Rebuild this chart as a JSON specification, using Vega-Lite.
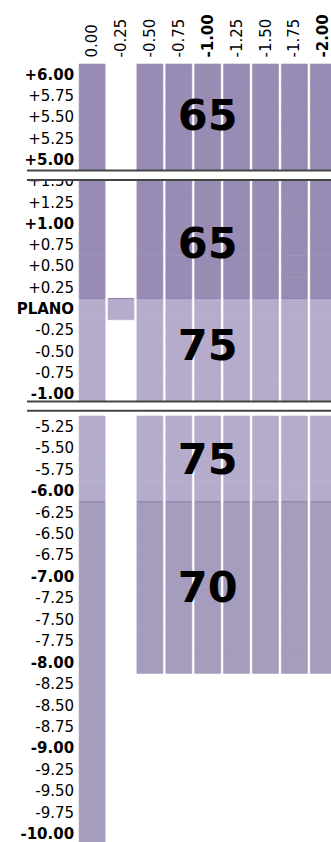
{
  "$schema": "https://vega.github.io/schema/vega-lite/v6.json",
  "padding": {"left": 16, "top": 13, "right": 0, "bottom": 0},
  "bounds": "flush",
  "config": {"view": {"stroke": null}, "font": "DejaVu Sans", "axisX": {"labelFontSize": 15, "labelFont": "DejaVu Sans", "labelColor": "#000"}},
  "spacing": 11,
  "resolve": {"scale": {"y": "independent"}},
  "datasets": {
    "upper": [
      {"sph":"+6.00","cyl":"0.00","price":"65"},{"sph":"+6.00","cyl":"-0.50","price":"65"},{"sph":"+6.00","cyl":"-0.75","price":"65"},{"sph":"+6.00","cyl":"-1.00","price":"65"},{"sph":"+6.00","cyl":"-1.25","price":"65"},{"sph":"+6.00","cyl":"-1.50","price":"65"},{"sph":"+6.00","cyl":"-1.75","price":"65"},{"sph":"+6.00","cyl":"-2.00","price":"65"},
      {"sph":"+5.75","cyl":"0.00","price":"65"},{"sph":"+5.75","cyl":"-0.50","price":"65"},{"sph":"+5.75","cyl":"-0.75","price":"65"},{"sph":"+5.75","cyl":"-1.00","price":"65"},{"sph":"+5.75","cyl":"-1.25","price":"65"},{"sph":"+5.75","cyl":"-1.50","price":"65"},{"sph":"+5.75","cyl":"-1.75","price":"65"},{"sph":"+5.75","cyl":"-2.00","price":"65"},
      {"sph":"+5.50","cyl":"0.00","price":"65"},{"sph":"+5.50","cyl":"-0.50","price":"65"},{"sph":"+5.50","cyl":"-0.75","price":"65"},{"sph":"+5.50","cyl":"-1.00","price":"65"},{"sph":"+5.50","cyl":"-1.25","price":"65"},{"sph":"+5.50","cyl":"-1.50","price":"65"},{"sph":"+5.50","cyl":"-1.75","price":"65"},{"sph":"+5.50","cyl":"-2.00","price":"65"},
      {"sph":"+5.25","cyl":"0.00","price":"65"},{"sph":"+5.25","cyl":"-0.50","price":"65"},{"sph":"+5.25","cyl":"-0.75","price":"65"},{"sph":"+5.25","cyl":"-1.00","price":"65"},{"sph":"+5.25","cyl":"-1.25","price":"65"},{"sph":"+5.25","cyl":"-1.50","price":"65"},{"sph":"+5.25","cyl":"-1.75","price":"65"},{"sph":"+5.25","cyl":"-2.00","price":"65"},
      {"sph":"+5.00","cyl":"0.00","price":"65"},{"sph":"+5.00","cyl":"-0.50","price":"65"},{"sph":"+5.00","cyl":"-0.75","price":"65"},{"sph":"+5.00","cyl":"-1.00","price":"65"},{"sph":"+5.00","cyl":"-1.25","price":"65"},{"sph":"+5.00","cyl":"-1.50","price":"65"},{"sph":"+5.00","cyl":"-1.75","price":"65"},{"sph":"+5.00","cyl":"-2.00","price":"65"},
      {"sph":"+1.50","cyl":"0.00","price":"65"},{"sph":"+1.50","cyl":"-0.50","price":"65"},{"sph":"+1.50","cyl":"-0.75","price":"65"},{"sph":"+1.50","cyl":"-1.00","price":"65"},{"sph":"+1.50","cyl":"-1.25","price":"65"},{"sph":"+1.50","cyl":"-1.50","price":"65"},{"sph":"+1.50","cyl":"-1.75","price":"65"},{"sph":"+1.50","cyl":"-2.00","price":"65"},
      {"sph":"+1.25","cyl":"0.00","price":"65"},{"sph":"+1.25","cyl":"-0.50","price":"65"},{"sph":"+1.25","cyl":"-0.75","price":"65"},{"sph":"+1.25","cyl":"-1.00","price":"65"},{"sph":"+1.25","cyl":"-1.25","price":"65"},{"sph":"+1.25","cyl":"-1.50","price":"65"},{"sph":"+1.25","cyl":"-1.75","price":"65"},{"sph":"+1.25","cyl":"-2.00","price":"65"},
      {"sph":"+1.00","cyl":"0.00","price":"65"},{"sph":"+1.00","cyl":"-0.50","price":"65"},{"sph":"+1.00","cyl":"-0.75","price":"65"},{"sph":"+1.00","cyl":"-1.00","price":"65"},{"sph":"+1.00","cyl":"-1.25","price":"65"},{"sph":"+1.00","cyl":"-1.50","price":"65"},{"sph":"+1.00","cyl":"-1.75","price":"65"},{"sph":"+1.00","cyl":"-2.00","price":"65"},
      {"sph":"+0.75","cyl":"0.00","price":"65"},{"sph":"+0.75","cyl":"-0.50","price":"65"},{"sph":"+0.75","cyl":"-0.75","price":"65"},{"sph":"+0.75","cyl":"-1.00","price":"65"},{"sph":"+0.75","cyl":"-1.25","price":"65"},{"sph":"+0.75","cyl":"-1.50","price":"65"},{"sph":"+0.75","cyl":"-1.75","price":"65"},{"sph":"+0.75","cyl":"-2.00","price":"65"},
      {"sph":"+0.50","cyl":"0.00","price":"65"},{"sph":"+0.50","cyl":"-0.50","price":"65"},{"sph":"+0.50","cyl":"-0.75","price":"65"},{"sph":"+0.50","cyl":"-1.00","price":"65"},{"sph":"+0.50","cyl":"-1.25","price":"65"},{"sph":"+0.50","cyl":"-1.50","price":"65"},{"sph":"+0.50","cyl":"-1.75","price":"65"},{"sph":"+0.50","cyl":"-2.00","price":"65"},
      {"sph":"+0.25","cyl":"0.00","price":"65"},{"sph":"+0.25","cyl":"-0.50","price":"65"},{"sph":"+0.25","cyl":"-0.75","price":"65"},{"sph":"+0.25","cyl":"-1.00","price":"65"},{"sph":"+0.25","cyl":"-1.25","price":"65"},{"sph":"+0.25","cyl":"-1.50","price":"65"},{"sph":"+0.25","cyl":"-1.75","price":"65"},{"sph":"+0.25","cyl":"-2.00","price":"65"},
      {"sph":"PLANO","cyl":"0.00","price":"75"},{"sph":"PLANO","cyl":"-0.25","price":"75"},{"sph":"PLANO","cyl":"-0.50","price":"75"},{"sph":"PLANO","cyl":"-0.75","price":"75"},{"sph":"PLANO","cyl":"-1.00","price":"75"},{"sph":"PLANO","cyl":"-1.25","price":"75"},{"sph":"PLANO","cyl":"-1.50","price":"75"},{"sph":"PLANO","cyl":"-1.75","price":"75"},{"sph":"PLANO","cyl":"-2.00","price":"75"},
      {"sph":"-0.25","cyl":"0.00","price":"75"},{"sph":"-0.25","cyl":"-0.50","price":"75"},{"sph":"-0.25","cyl":"-0.75","price":"75"},{"sph":"-0.25","cyl":"-1.00","price":"75"},{"sph":"-0.25","cyl":"-1.25","price":"75"},{"sph":"-0.25","cyl":"-1.50","price":"75"},{"sph":"-0.25","cyl":"-1.75","price":"75"},{"sph":"-0.25","cyl":"-2.00","price":"75"},
      {"sph":"-0.50","cyl":"0.00","price":"75"},{"sph":"-0.50","cyl":"-0.50","price":"75"},{"sph":"-0.50","cyl":"-0.75","price":"75"},{"sph":"-0.50","cyl":"-1.00","price":"75"},{"sph":"-0.50","cyl":"-1.25","price":"75"},{"sph":"-0.50","cyl":"-1.50","price":"75"},{"sph":"-0.50","cyl":"-1.75","price":"75"},{"sph":"-0.50","cyl":"-2.00","price":"75"},
      {"sph":"-0.75","cyl":"0.00","price":"75"},{"sph":"-0.75","cyl":"-0.50","price":"75"},{"sph":"-0.75","cyl":"-0.75","price":"75"},{"sph":"-0.75","cyl":"-1.00","price":"75"},{"sph":"-0.75","cyl":"-1.25","price":"75"},{"sph":"-0.75","cyl":"-1.50","price":"75"},{"sph":"-0.75","cyl":"-1.75","price":"75"},{"sph":"-0.75","cyl":"-2.00","price":"75"},
      {"sph":"-1.00","cyl":"0.00","price":"75"},{"sph":"-1.00","cyl":"-0.50","price":"75"},{"sph":"-1.00","cyl":"-0.75","price":"75"},{"sph":"-1.00","cyl":"-1.00","price":"75"},{"sph":"-1.00","cyl":"-1.25","price":"75"},{"sph":"-1.00","cyl":"-1.50","price":"75"},{"sph":"-1.00","cyl":"-1.75","price":"75"},{"sph":"-1.00","cyl":"-2.00","price":"75"}
    ],
    "lower": [
      {"sph":"-5.25","cyl":"0.00","price":"75"},{"sph":"-5.25","cyl":"-0.50","price":"75"},{"sph":"-5.25","cyl":"-0.75","price":"75"},{"sph":"-5.25","cyl":"-1.00","price":"75"},{"sph":"-5.25","cyl":"-1.25","price":"75"},{"sph":"-5.25","cyl":"-1.50","price":"75"},{"sph":"-5.25","cyl":"-1.75","price":"75"},{"sph":"-5.25","cyl":"-2.00","price":"75"},
      {"sph":"-5.50","cyl":"0.00","price":"75"},{"sph":"-5.50","cyl":"-0.50","price":"75"},{"sph":"-5.50","cyl":"-0.75","price":"75"},{"sph":"-5.50","cyl":"-1.00","price":"75"},{"sph":"-5.50","cyl":"-1.25","price":"75"},{"sph":"-5.50","cyl":"-1.50","price":"75"},{"sph":"-5.50","cyl":"-1.75","price":"75"},{"sph":"-5.50","cyl":"-2.00","price":"75"},
      {"sph":"-5.75","cyl":"0.00","price":"75"},{"sph":"-5.75","cyl":"-0.50","price":"75"},{"sph":"-5.75","cyl":"-0.75","price":"75"},{"sph":"-5.75","cyl":"-1.00","price":"75"},{"sph":"-5.75","cyl":"-1.25","price":"75"},{"sph":"-5.75","cyl":"-1.50","price":"75"},{"sph":"-5.75","cyl":"-1.75","price":"75"},{"sph":"-5.75","cyl":"-2.00","price":"75"},
      {"sph":"-6.00","cyl":"0.00","price":"75"},{"sph":"-6.00","cyl":"-0.50","price":"75"},{"sph":"-6.00","cyl":"-0.75","price":"75"},{"sph":"-6.00","cyl":"-1.00","price":"75"},{"sph":"-6.00","cyl":"-1.25","price":"75"},{"sph":"-6.00","cyl":"-1.50","price":"75"},{"sph":"-6.00","cyl":"-1.75","price":"75"},{"sph":"-6.00","cyl":"-2.00","price":"75"},
      {"sph":"-6.25","cyl":"0.00","price":"70"},{"sph":"-6.25","cyl":"-0.50","price":"70"},{"sph":"-6.25","cyl":"-0.75","price":"70"},{"sph":"-6.25","cyl":"-1.00","price":"70"},{"sph":"-6.25","cyl":"-1.25","price":"70"},{"sph":"-6.25","cyl":"-1.50","price":"70"},{"sph":"-6.25","cyl":"-1.75","price":"70"},{"sph":"-6.25","cyl":"-2.00","price":"70"},
      {"sph":"-6.50","cyl":"0.00","price":"70"},{"sph":"-6.50","cyl":"-0.50","price":"70"},{"sph":"-6.50","cyl":"-0.75","price":"70"},{"sph":"-6.50","cyl":"-1.00","price":"70"},{"sph":"-6.50","cyl":"-1.25","price":"70"},{"sph":"-6.50","cyl":"-1.50","price":"70"},{"sph":"-6.50","cyl":"-1.75","price":"70"},{"sph":"-6.50","cyl":"-2.00","price":"70"},
      {"sph":"-6.75","cyl":"0.00","price":"70"},{"sph":"-6.75","cyl":"-0.50","price":"70"},{"sph":"-6.75","cyl":"-0.75","price":"70"},{"sph":"-6.75","cyl":"-1.00","price":"70"},{"sph":"-6.75","cyl":"-1.25","price":"70"},{"sph":"-6.75","cyl":"-1.50","price":"70"},{"sph":"-6.75","cyl":"-1.75","price":"70"},{"sph":"-6.75","cyl":"-2.00","price":"70"},
      {"sph":"-7.00","cyl":"0.00","price":"70"},{"sph":"-7.00","cyl":"-0.50","price":"70"},{"sph":"-7.00","cyl":"-0.75","price":"70"},{"sph":"-7.00","cyl":"-1.00","price":"70"},{"sph":"-7.00","cyl":"-1.25","price":"70"},{"sph":"-7.00","cyl":"-1.50","price":"70"},{"sph":"-7.00","cyl":"-1.75","price":"70"},{"sph":"-7.00","cyl":"-2.00","price":"70"},
      {"sph":"-7.25","cyl":"0.00","price":"70"},{"sph":"-7.25","cyl":"-0.50","price":"70"},{"sph":"-7.25","cyl":"-0.75","price":"70"},{"sph":"-7.25","cyl":"-1.00","price":"70"},{"sph":"-7.25","cyl":"-1.25","price":"70"},{"sph":"-7.25","cyl":"-1.50","price":"70"},{"sph":"-7.25","cyl":"-1.75","price":"70"},{"sph":"-7.25","cyl":"-2.00","price":"70"},
      {"sph":"-7.50","cyl":"0.00","price":"70"},{"sph":"-7.50","cyl":"-0.50","price":"70"},{"sph":"-7.50","cyl":"-0.75","price":"70"},{"sph":"-7.50","cyl":"-1.00","price":"70"},{"sph":"-7.50","cyl":"-1.25","price":"70"},{"sph":"-7.50","cyl":"-1.50","price":"70"},{"sph":"-7.50","cyl":"-1.75","price":"70"},{"sph":"-7.50","cyl":"-2.00","price":"70"},
      {"sph":"-7.75","cyl":"0.00","price":"70"},{"sph":"-7.75","cyl":"-0.50","price":"70"},{"sph":"-7.75","cyl":"-0.75","price":"70"},{"sph":"-7.75","cyl":"-1.00","price":"70"},{"sph":"-7.75","cyl":"-1.25","price":"70"},{"sph":"-7.75","cyl":"-1.50","price":"70"},{"sph":"-7.75","cyl":"-1.75","price":"70"},{"sph":"-7.75","cyl":"-2.00","price":"70"},
      {"sph":"-8.00","cyl":"0.00","price":"70"},{"sph":"-8.00","cyl":"-0.50","price":"70"},{"sph":"-8.00","cyl":"-0.75","price":"70"},{"sph":"-8.00","cyl":"-1.00","price":"70"},{"sph":"-8.00","cyl":"-1.25","price":"70"},{"sph":"-8.00","cyl":"-1.50","price":"70"},{"sph":"-8.00","cyl":"-1.75","price":"70"},{"sph":"-8.00","cyl":"-2.00","price":"70"},
      {"sph":"-8.25","cyl":"0.00","price":"70"},{"sph":"-8.50","cyl":"0.00","price":"70"},{"sph":"-8.75","cyl":"0.00","price":"70"},{"sph":"-9.00","cyl":"0.00","price":"70"},{"sph":"-9.25","cyl":"0.00","price":"70"},{"sph":"-9.50","cyl":"0.00","price":"70"},{"sph":"-9.75","cyl":"0.00","price":"70"},{"sph":"-10.00","cyl":"0.00","price":"70"}
    ]
  },
  "vconcat": [
    {
      "width": 315,
      "height": 341,
      "layer": [
        {
          "data": {"name": "upper"},
          "mark": {"type": "rect", "strokeWidth": 0.6},
          "encoding": {
            "x": {"field": "cyl", "type": "nominal",
              "scale": {"type": "band", "domain": ["0.00","-0.25","-0.50","-0.75","-1.00","-1.25","-1.50","-1.75","-2.00"], "paddingInner": 0.1, "paddingOuter": 1.2257, "align": 0.9015},
              "axis": {"orient": "top", "title": null, "labelAngle": -90, "labelFontSize": 15, "labelFont": "DejaVu Sans", "labelColor": "#000", "ticks": false, "domain": false, "labelPadding": 7, "minExtent": 44, "maxExtent": 44,
                "labelFontWeight": {"condition": {"test": "datum.value == '-1.00' || datum.value == '-2.00'", "value": "bold"}, "value": "normal"}}},
            "y": {"field": "sph", "type": "nominal", "axis": null,
              "scale": {"type": "band", "domain": ["+6.00","+5.75","+5.50","+5.25","+5.00","+1.50","+1.25","+1.00","+0.75","+0.50","+0.25","PLANO","-0.25","-0.50","-0.75","-1.00"], "paddingInner": 0, "paddingOuter": 0}},
            "color": {"field": "price", "type": "nominal", "legend": null,
              "scale": {"domain": ["65","75","70"], "range": ["#988cb4","#b5accc","#a59cbe"]}},
            "stroke": {"field": "price", "type": "nominal", "legend": null,
              "scale": {"domain": ["65","75","70"], "range": ["#988cb4","#b5accc","#a59cbe"]}}
          }
        },
        {
          "data": {"name": "upper"},
          "transform": [{"filter": "datum.sph == 'PLANO'"}],
          "mark": {"type": "tick", "orient": "horizontal", "size": 25, "thickness": 1, "color": "#8f82ae", "opacity": 1},
          "encoding": {
            "x": {"field": "cyl", "type": "nominal"},
            "y": {"field": "sph", "type": "nominal", "bandPosition": 0}
          }
        },
        {
          "data": {"name": "upper"},
          "transform": [{"filter": "datum.cyl == '0.00' && !(indexof(datum.sph, '.00') >= 0 || datum.sph == 'PLANO')"}],
          "mark": {"type": "text", "align": "right", "baseline": "middle", "dx": -5, "fontSize": 15, "font": "DejaVu Sans", "color": "#000"},
          "encoding": {
            "x": {"field": "cyl", "type": "nominal", "bandPosition": 0},
            "y": {"field": "sph", "type": "nominal"},
            "text": {"field": "sph"}
          }
        },
        {
          "data": {"name": "upper"},
          "transform": [{"filter": "datum.cyl == '0.00' && (indexof(datum.sph, '.00') >= 0 || datum.sph == 'PLANO')"}],
          "mark": {"type": "text", "align": "right", "baseline": "middle", "dx": -5, "fontSize": 15, "font": "DejaVu Sans", "fontWeight": "bold", "color": "#000"},
          "encoding": {
            "x": {"field": "cyl", "type": "nominal", "bandPosition": 0},
            "y": {"field": "sph", "type": "nominal"},
            "text": {"field": "sph"}
          }
        },
        {
          "data": {"values": [{"cyl": "-1.00", "sph": "+5.50", "label": "65"}, {"cyl": "-1.00", "sph": "+0.75", "label": "65"}]},
          "mark": {"type": "text", "align": "center", "baseline": "middle", "fontSize": 43, "font": "DejaVu Sans", "fontWeight": "bold", "color": "#000"},
          "encoding": {
            "x": {"field": "cyl", "type": "nominal"},
            "y": {"field": "sph", "type": "nominal"},
            "text": {"field": "label"}
          }
        },
        {
          "data": {"values": [{"cyl": "-1.00", "sph": "-0.50", "label": "75"}]},
          "mark": {"type": "text", "align": "center", "baseline": "middle", "dy": -5, "fontSize": 43, "font": "DejaVu Sans", "fontWeight": "bold", "color": "#000"},
          "encoding": {
            "x": {"field": "cyl", "type": "nominal"},
            "y": {"field": "sph", "type": "nominal"},
            "text": {"field": "label"}
          }
        },
        {
          "data": {"values": [{"sph": "+1.50"}]},
          "mark": {"type": "rule", "color": "#ffffff", "strokeWidth": 9.3},
          "encoding": {"y": {"field": "sph", "type": "nominal", "bandPosition": 0.218}}
        },
        {
          "data": {"values": [{"sph": "-1.00"}]},
          "mark": {"type": "rule", "color": "#ffffff", "strokeWidth": 9.3},
          "encoding": {"y": {"field": "sph", "type": "nominal", "bandPosition": 1.054}}
        },
        {
          "data": {"values": [{"sph": "+1.50"}]},
          "mark": {"type": "rule", "color": "#444444", "strokeWidth": 2},
          "encoding": {"y": {"field": "sph", "type": "nominal", "bandPosition": 0}}
        },
        {
          "data": {"values": [{"sph": "+1.50"}]},
          "mark": {"type": "rule", "color": "#444444", "strokeWidth": 2},
          "encoding": {"y": {"field": "sph", "type": "nominal", "bandPosition": 0.437}}
        },
        {
          "data": {"values": [{"sph": "-1.00"}]},
          "mark": {"type": "rule", "color": "#444444", "strokeWidth": 2},
          "encoding": {"y": {"field": "sph", "type": "nominal", "bandPosition": 0.836}}
        },
        {
          "data": {"values": [{"sph": "-1.00"}]},
          "mark": {"type": "rule", "color": "#444444", "strokeWidth": 2},
          "encoding": {"y": {"field": "sph", "type": "nominal", "bandPosition": 1.272}}
        }
      ]
    },
    {
      "width": 315,
      "height": 429,
      "layer": [
        {
          "data": {"name": "lower"},
          "mark": {"type": "rect", "strokeWidth": 0.6},
          "encoding": {
            "x": {"field": "cyl", "type": "nominal", "axis": null,
              "scale": {"type": "band", "domain": ["0.00","-0.25","-0.50","-0.75","-1.00","-1.25","-1.50","-1.75","-2.00"], "paddingInner": 0.1, "paddingOuter": 1.2257, "align": 0.9015}},
            "y": {"field": "sph", "type": "nominal", "axis": null,
              "scale": {"type": "band", "domain": ["-5.25","-5.50","-5.75","-6.00","-6.25","-6.50","-6.75","-7.00","-7.25","-7.50","-7.75","-8.00","-8.25","-8.50","-8.75","-9.00","-9.25","-9.50","-9.75","-10.00"], "paddingInner": 0, "paddingOuter": 0}},
            "color": {"field": "price", "type": "nominal", "legend": null,
              "scale": {"domain": ["65","75","70"], "range": ["#988cb4","#b5accc","#a59cbe"]}},
            "stroke": {"field": "price", "type": "nominal", "legend": null,
              "scale": {"domain": ["65","75","70"], "range": ["#988cb4","#b5accc","#a59cbe"]}}
          }
        },
        {
          "data": {"name": "lower"},
          "transform": [{"filter": "datum.sph == '-6.25'"}],
          "mark": {"type": "tick", "orient": "horizontal", "size": 25, "thickness": 1, "color": "#8a7dab", "opacity": 1},
          "encoding": {
            "x": {"field": "cyl", "type": "nominal"},
            "y": {"field": "sph", "type": "nominal", "bandPosition": 0}
          }
        },
        {
          "data": {"name": "lower"},
          "transform": [{"filter": "datum.cyl == '0.00' && indexof(datum.sph, '.00') < 0"}],
          "mark": {"type": "text", "align": "right", "baseline": "middle", "dx": -5, "fontSize": 15, "font": "DejaVu Sans", "color": "#000"},
          "encoding": {
            "x": {"field": "cyl", "type": "nominal", "bandPosition": 0},
            "y": {"field": "sph", "type": "nominal"},
            "text": {"field": "sph"}
          }
        },
        {
          "data": {"name": "lower"},
          "transform": [{"filter": "datum.cyl == '0.00' && indexof(datum.sph, '.00') >= 0"}],
          "mark": {"type": "text", "align": "right", "baseline": "middle", "dx": -5, "fontSize": 15, "font": "DejaVu Sans", "fontWeight": "bold", "color": "#000"},
          "encoding": {
            "x": {"field": "cyl", "type": "nominal", "bandPosition": 0},
            "y": {"field": "sph", "type": "nominal"},
            "text": {"field": "sph"}
          }
        },
        {
          "data": {"values": [{"cyl": "-1.00", "sph": "-5.75", "label": "75"}, {"cyl": "-1.00", "sph": "-7.25", "label": "70"}]},
          "mark": {"type": "text", "align": "center", "baseline": "middle", "dy": -9, "fontSize": 43, "font": "DejaVu Sans", "fontWeight": "bold", "color": "#000"},
          "encoding": {
            "x": {"field": "cyl", "type": "nominal"},
            "y": {"field": "sph", "type": "nominal"},
            "text": {"field": "label"}
          }
        }
      ]
    }
  ]
}
